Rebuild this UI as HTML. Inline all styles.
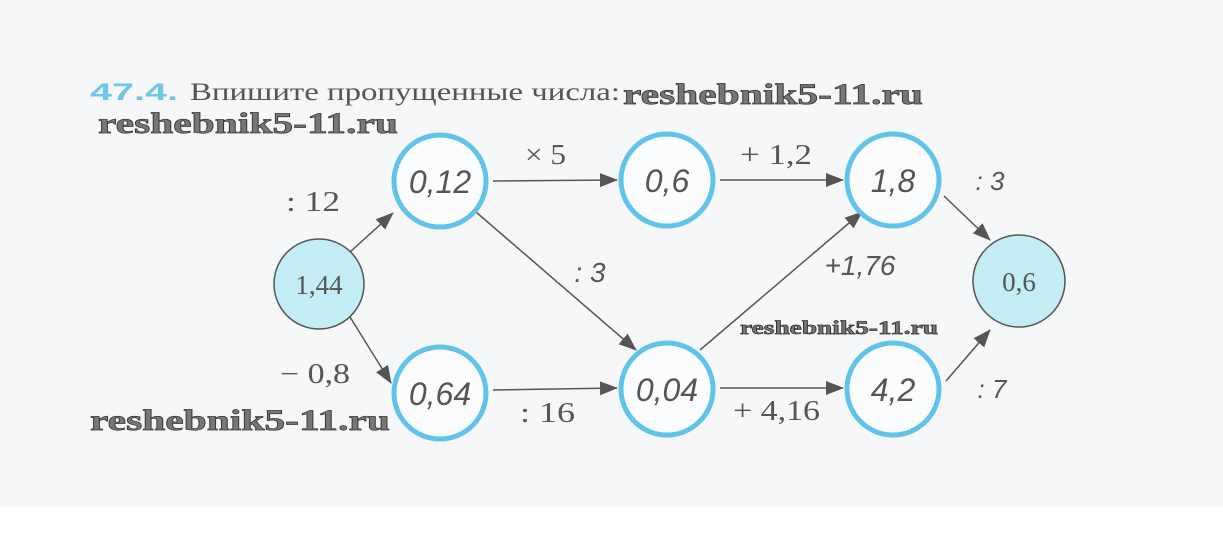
<!DOCTYPE html>
<html><head><meta charset="utf-8"><style>
html,body{margin:0;padding:0;background:#fff}
svg{display:block}
.t{font-family:"Liberation Serif",serif;fill:#555}
.h{font-family:"Liberation Sans",sans-serif;font-style:italic;fill:#555}
.w{font-family:"Liberation Serif",serif;font-weight:bold;fill:#777;stroke:#333;stroke-width:0.7}
</style></head><body>
<svg width="1223" height="541" viewBox="0 0 1223 541">
<defs><marker id="a" markerWidth="18" markerHeight="14" refX="17" refY="7" orient="auto" markerUnits="userSpaceOnUse" viewBox="0 0 18 14"><path d="M0,0 L18,7 L0,14 z" fill="#555"/></marker></defs>
<rect x="0" y="0" width="1223" height="507" fill="#f6f7f8"/>
<text x="90" y="100" font-family="Liberation Sans,sans-serif" font-weight="bold" font-size="24" fill="#6ec6ea" textLength="88" lengthAdjust="spacingAndGlyphs">47.4.</text>
<text x="190" y="100" class="t" font-size="25" textLength="430" lengthAdjust="spacingAndGlyphs">Впишите пропущенные числа:</text>
<text x="623" y="104" class="w" font-size="30" textLength="300" lengthAdjust="spacingAndGlyphs">reshebnik5-11.ru</text>
<text x="98" y="133" class="w" font-size="30" textLength="300" lengthAdjust="spacingAndGlyphs">reshebnik5-11.ru</text>
<text x="90" y="430" class="w" font-size="30" textLength="300" lengthAdjust="spacingAndGlyphs">reshebnik5-11.ru</text>
<text x="740" y="334" class="w" font-size="19" textLength="198" lengthAdjust="spacingAndGlyphs">reshebnik5-11.ru</text>
<g stroke="#555" stroke-width="1.5" fill="none" marker-end="url(#a)">
<line x1="350" y1="252" x2="393" y2="213"/>
<line x1="350" y1="317" x2="391" y2="383"/>
<line x1="493" y1="181" x2="617" y2="180"/>
<line x1="720" y1="180" x2="843" y2="180"/>
<line x1="476" y1="212" x2="636" y2="350"/>
<line x1="493" y1="390" x2="617" y2="388"/>
<line x1="700" y1="350" x2="862" y2="212"/>
<line x1="720" y1="388" x2="843" y2="388"/>
<line x1="944" y1="196" x2="990" y2="240"/>
<line x1="946" y1="381" x2="990" y2="330"/>
</g>
<circle cx="319" cy="284" r="45" fill="#c4edf5" stroke="#555" stroke-width="1.5"/>
<circle cx="1019" cy="281" r="46" fill="#c4edf5" stroke="#555" stroke-width="1.5"/>
<g fill="#fafcfd" stroke="#62c3ea" stroke-width="5">
<circle cx="440" cy="181" r="46"/><circle cx="667" cy="180" r="46"/><circle cx="893" cy="180" r="46"/>
<circle cx="440" cy="393" r="46"/><circle cx="667" cy="389" r="46"/><circle cx="893" cy="389" r="46"/>
</g>
<text x="319" y="294" class="t" font-size="27" text-anchor="middle" fill="#333">1,44</text>
<text x="1019" y="291" class="t" font-size="27" text-anchor="middle" fill="#333">0,6</text>
<g class="h" font-size="32" text-anchor="middle">
<text x="440" y="193">0,12</text><text x="667" y="192">0,6</text><text x="893" y="192">1,8</text>
<text x="440" y="405">0,64</text><text x="667" y="401">0,04</text><text x="893" y="401">4,2</text>
<text x="590" y="282" font-size="28">: 3</text>
<text x="860" y="275" font-size="28">+1,76</text>
<text x="990" y="190" font-size="26">: 3</text>
<text x="992" y="398" font-size="26">: 7</text>
</g>
<g class="t" font-size="28">
<text x="286" y="211" textLength="54" lengthAdjust="spacingAndGlyphs">: 12</text>
<text x="280" y="383" textLength="70" lengthAdjust="spacingAndGlyphs">− 0,8</text>
<text x="525" y="164" textLength="41" lengthAdjust="spacingAndGlyphs">× 5</text>
<text x="740" y="164" textLength="72" lengthAdjust="spacingAndGlyphs">+ 1,2</text>
<text x="520" y="422" textLength="55" lengthAdjust="spacingAndGlyphs">: 16</text>
<text x="733" y="420" textLength="87" lengthAdjust="spacingAndGlyphs">+ 4,16</text>
</g>
</svg>
</body></html>
